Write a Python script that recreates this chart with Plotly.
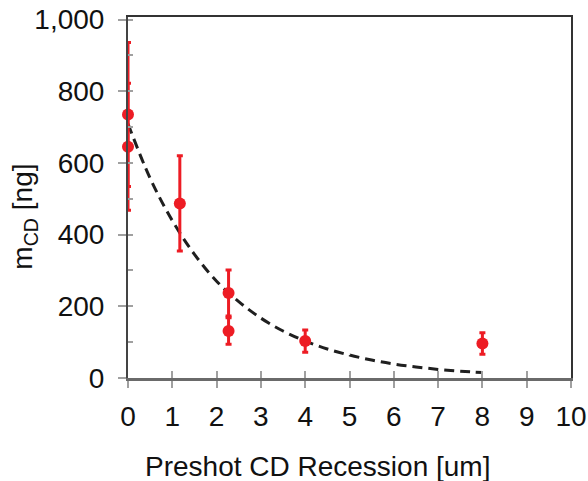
import plotly.graph_objects as go

# Measured data points
recession_um = [0, 0, 1.17, 2.27, 2.27, 4.0, 8.0]
mass_ng = [735, 645, 487, 237, 131, 103, 96]
mass_err = [201, 177, 133, 64, 37, 31, 30]

# Fitted trend curve
fit_x = [0, 0.5, 1, 1.5, 2, 2.5, 3, 3.5, 4, 4.5, 5, 5.5, 6, 6.5, 7, 7.5, 8]
fit_y = [709, 557, 439, 345, 270, 213, 167, 131, 103, 81, 64, 50, 39, 31, 24, 19, 15]

x_ticks = list(range(0, 11))
y_ticks = [0, 200, 400, 600, 800, 1000]
y_tick_text = ["0", "200", "400", "600", "800", "1,000"]

RED = "#ED1C24"
FONT = "Liberation Sans, Arial, sans-serif"

fig = go.Figure()
fig.add_trace(go.Scatter(
    x=fit_x, y=fit_y, mode="lines", line_shape="spline",
    line=dict(color="#1f1f1f", width=3, dash="10px,6px"),
    hoverinfo="skip", showlegend=False,
))
fig.add_trace(go.Scatter(
    x=recession_um, y=mass_ng, mode="markers",
    marker=dict(color=RED, size=12),
    error_y=dict(type="data", array=mass_err, color=RED, thickness=3, width=3),
    cliponaxis=False, showlegend=False,
))

fig.update_layout(
    width=588, height=481,
    margin=dict(l=128, r=17, t=17, b=103, autoexpand=False),
    paper_bgcolor="white", plot_bgcolor="white",
    font=dict(family=FONT, size=28, color="#111"),
    xaxis=dict(
        range=[0, 10], tickvals=x_ticks, showgrid=False, zeroline=False,
        showline=True, linecolor="#6a6a6a", linewidth=3, automargin=False,
        ticks="outside", ticklen=7, tickwidth=1.5, tickcolor="#a0a0a0",
        tickfont=dict(size=28), ticklabelstandoff=4,
    ),
    xaxis2=dict(
        range=[0, 10], overlaying="x", side="top", anchor="y", matches="x",
        showgrid=False, zeroline=False, showticklabels=False, ticks="",
        showline=True, linecolor="#333", linewidth=2, automargin=False,
    ),
    xaxis3=dict(
        range=[0, 10], overlaying="x", side="bottom", anchor="y", matches="x",
        tickvals=x_ticks, showgrid=False, zeroline=False, showticklabels=False,
        ticks="inside", ticklen=7, tickwidth=1.5, tickcolor="#a0a0a0", showline=False,
        automargin=False,
    ),
    yaxis=dict(
        range=[0, 1007], tickvals=y_ticks, ticktext=y_tick_text,
        showgrid=False, zeroline=False, automargin=False,
        showline=True, linecolor="#444", linewidth=2,
        ticks="outside", ticklen=8, tickwidth=1.5, tickcolor="#a0a0a0",
        tickfont=dict(size=28), ticklabelstandoff=8,
    ),
    yaxis2=dict(
        range=[0, 1007], overlaying="y", side="right", anchor="x", matches="y",
        showgrid=False, zeroline=False, showticklabels=False, ticks="",
        showline=True, linecolor="#333", linewidth=2, automargin=False,
    ),
    yaxis3=dict(
        range=[0, 1007], overlaying="y", side="left", anchor="x", matches="y",
        dtick=100, tick0=0, showgrid=False, zeroline=False, showticklabels=False,
        ticks="inside", ticklen=5, tickwidth=1.5, tickcolor="#a0a0a0", showline=False,
        automargin=False,
    ),
    annotations=[
        dict(text="Preshot CD Recession [um]", xref="paper", yref="paper",
             x=0.427, y=0, yshift=-88, xanchor="center", yanchor="middle",
             showarrow=False, font=dict(size=28, family=FONT, color="#111")),
        dict(text="m<sub>CD</sub> [ng]", xref="paper", yref="paper",
             x=0, xshift=-103, y=0.447, xanchor="center", yanchor="middle",
             textangle=-90, showarrow=False,
             font=dict(size=28, family=FONT, color="#111")),
    ],
)
# invisible helper traces to activate the overlay axes
fig.add_trace(go.Scatter(x=[0], y=[0], xaxis="x2", yaxis="y2", mode="markers",
                         marker=dict(opacity=0), hoverinfo="skip", showlegend=False))
fig.add_trace(go.Scatter(x=[0], y=[0], xaxis="x3", yaxis="y3", mode="markers",
                         marker=dict(opacity=0), hoverinfo="skip", showlegend=False))

fig.write_html("out.html")
